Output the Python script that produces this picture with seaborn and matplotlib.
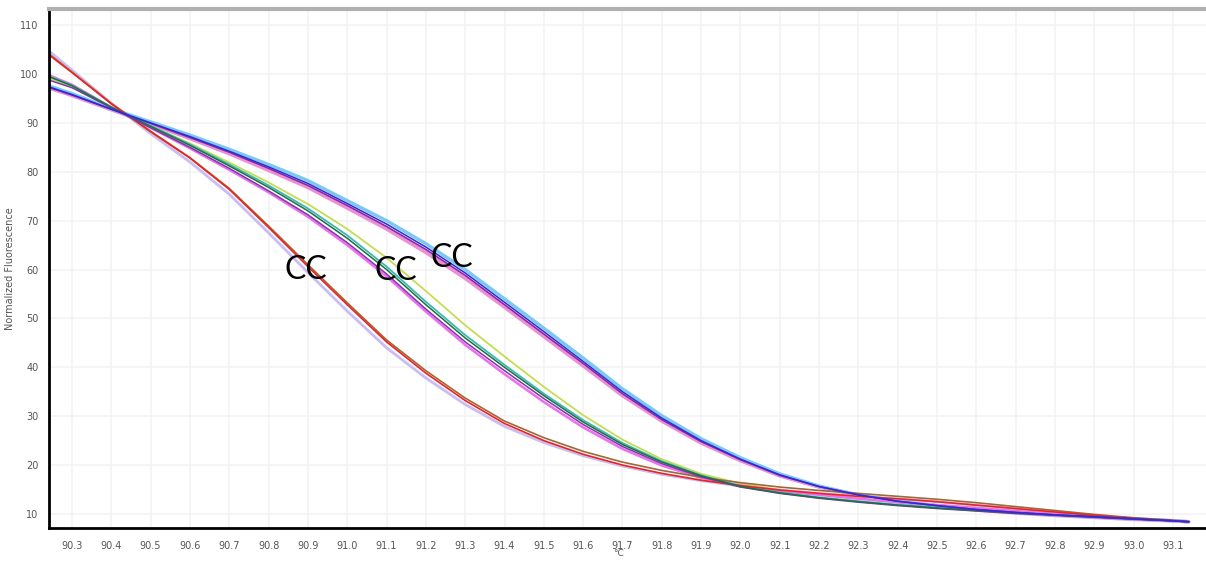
import matplotlib
matplotlib.use("Agg")
import matplotlib.pyplot as plt
import seaborn as sns
import pandas as pd

# temperatures (°C) the curves were read at
temps = [90.24, 90.3, 90.4, 90.5, 90.6, 90.7, 90.8, 90.9, 91.0, 91.1, 91.2,
         91.3, 91.4, 91.5, 91.6, 91.7, 91.8, 91.9, 92.0, 92.1, 92.2, 92.3,
         92.4, 92.5, 92.6, 92.7, 92.8, 92.9, 93.0, 93.1, 93.14]

# group melting earliest (left "CC")
a_red = [104.0, 100.3, 93.9, 88.2, 82.8, 76.4, 68.6, 60.6, 52.8, 45.2, 38.8,
         33.2, 28.5, 25.0, 22.2, 20.0, 18.3, 16.9, 15.8, 14.9, 14.2, 13.6,
         13.1, 12.5, 11.8, 11.1, 10.4, 9.7, 9.1, 8.6, 8.4]
a_lavender = [104.8, 100.8, 94.0, 87.8, 82.0, 75.4, 67.5, 59.4, 51.5, 44.0, 37.8,
              32.4, 27.9, 24.6, 21.9, 19.8, 18.1, 16.8, 15.7, 14.9, 14.2, 13.6,
              13.1, 12.5, 11.8, 11.1, 10.4, 9.7, 9.1, 8.6, 8.4]
a_brown = [104.2, 100.4, 94.0, 88.3, 82.9, 76.6, 68.9, 61.0, 53.2, 45.6, 39.3,
           33.7, 29.0, 25.6, 22.8, 20.6, 18.9, 17.5, 16.4, 15.5, 14.8, 14.2,
           13.6, 13.0, 12.3, 11.5, 10.7, 9.9, 9.2, 8.7, 8.4]

# middle group
b_green = [99.5, 97.6, 93.2, 89.3, 85.4, 81.2, 76.8, 72.0, 66.4, 60.0, 52.8,
           46.0, 40.0, 34.2, 28.8, 24.2, 20.6, 17.8, 15.6, 14.3, 13.3, 12.5,
           11.8, 11.2, 10.7, 10.2, 9.8, 9.4, 9.0, 8.6, 8.4]
b_purple = [98.8, 97.2, 93.1, 89.0, 85.0, 80.7, 76.1, 71.2, 65.5, 59.1, 51.9,
            45.2, 39.3, 33.6, 28.3, 23.8, 20.3, 17.6, 15.5, 14.2, 13.2, 12.4,
            11.7, 11.1, 10.6, 10.1, 9.7, 9.3, 8.9, 8.6, 8.4]
b_yellow = [99.2, 97.4, 93.0, 89.4, 85.8, 81.9, 77.8, 73.4, 68.3, 62.4, 55.6,
            48.6, 42.2, 36.0, 30.2, 25.2, 21.2, 18.2, 16.2, 14.9, 14.0, 13.2,
            12.5, 11.9, 11.3, 10.7, 10.1, 9.5, 9.0, 8.6, 8.4]
b_magenta = [99.8, 97.8, 93.2, 89.0, 84.8, 80.4, 75.8, 70.8, 65.0, 58.6, 51.4,
             44.6, 38.6, 32.9, 27.7, 23.3, 19.9, 17.4, 15.8, 14.7, 13.9, 13.1,
             12.4, 11.8, 11.2, 10.6, 10.0, 9.5, 9.0, 8.6, 8.4]
b_teal = [99.6, 97.7, 93.2, 89.4, 85.6, 81.5, 77.2, 72.5, 67.0, 60.6, 53.4,
          46.6, 40.5, 34.6, 29.2, 24.5, 20.8, 17.9, 15.7, 14.4, 13.4, 12.6,
          11.9, 11.3, 10.8, 10.3, 9.8, 9.4, 9.0, 8.6, 8.4]

# group melting latest (right "CC")
c_blue = [97.4, 95.8, 92.8, 90.0, 87.2, 84.2, 81.0, 77.6, 73.5, 69.3, 64.6,
          59.3, 53.3, 47.3, 41.2, 35.0, 29.6, 25.0, 21.2, 18.0, 15.6, 13.9,
          12.6, 11.7, 10.9, 10.3, 9.8, 9.4, 9.0, 8.6, 8.4]
c_cyan = [97.6, 96.0, 92.9, 90.2, 87.5, 84.6, 81.5, 78.2, 74.1, 70.0, 65.3,
          60.0, 54.0, 48.0, 41.9, 35.6, 30.1, 25.4, 21.5, 18.2, 15.7, 13.9,
          12.6, 11.7, 10.9, 10.3, 9.8, 9.4, 9.0, 8.6, 8.4]
c_pink = [97.2, 95.6, 92.7, 89.8, 86.8, 83.7, 80.3, 76.8, 72.6, 68.3, 63.5,
          58.2, 52.3, 46.3, 40.3, 34.2, 29.0, 24.5, 20.9, 17.8, 15.5, 13.8,
          12.5, 11.6, 10.8, 10.2, 9.7, 9.3, 8.9, 8.6, 8.4]
c_purple = [97.3, 95.7, 92.8, 89.9, 87.0, 84.0, 80.7, 77.2, 73.1, 68.8, 64.1,
            58.8, 52.8, 46.8, 40.8, 34.6, 29.3, 24.8, 21.1, 17.9, 15.6, 13.9,
            12.6, 11.7, 10.9, 10.3, 9.8, 9.4, 9.0, 8.6, 8.4]

series = {
    "a_lavender": a_lavender, "c_pink": c_pink, "c_cyan": c_cyan,
    "b_yellow": b_yellow, "b_magenta": b_magenta, "b_teal": b_teal,
    "a_brown": a_brown, "a_red": a_red, "b_purple": b_purple,
    "b_green": b_green, "c_purple": c_purple, "c_blue": c_blue,
}
colors = {
    "a_lavender": "#c9bdf2", "c_pink": "#ec8fd6", "c_cyan": "#7cc8ee",
    "b_yellow": "#c5dc55", "b_magenta": "#f06cf0", "b_teal": "#3bb8b0",
    "a_brown": "#9a6a3a", "a_red": "#ee2222", "b_purple": "#7a3aa8",
    "b_green": "#1f6f44", "c_purple": "#8a2aa0", "c_blue": "#2a2ae0",
}
widths = {
    "a_lavender": 2.0, "c_pink": 2.6, "c_cyan": 2.4, "b_yellow": 1.3,
    "b_magenta": 1.8, "b_teal": 1.3, "a_brown": 1.2, "a_red": 1.2,
    "b_purple": 1.1, "b_green": 1.1, "c_purple": 1.2, "c_blue": 1.1,
}

labels_x = [90.895, 91.125, 91.265]
labels_y = [60.0, 59.6, 62.4]
label_txt = ["CC", "CC", "CC"]

rows = []
for name, vals in series.items():
    for t, v in zip(temps, vals):
        rows.append({"temp": t, "fluor": v, "trace": name})
df = pd.DataFrame(rows)

sns.set_style("whitegrid")
plt.rcParams["font.family"] = ["DejaVu Sans"]

fig = plt.figure(figsize=(12.06, 5.61), dpi=100)
ax = fig.add_axes([0.0406, 0.0595, 0.9594, 0.9245])

for name in series:
    sns.lineplot(data=df[df.trace == name], x="temp", y="fluor",
                 color=colors[name], lw=widths[name], estimator=None,
                 sort=False, ax=ax, legend=False)

for x, y, s in zip(labels_x, labels_y, label_txt):
    ax.text(x, y, s, fontsize=23, family="Lato", color="black",
            ha="center", va="center")

ax.set_xlim(90.2415, 93.184)
ax.set_ylim(7.2, 113.3)
ax.set_xticks([90.3 + 0.1 * i for i in range(29)])
ax.set_xticklabels([f"{90.3 + 0.1 * i:.1f}" for i in range(29)])
ax.set_yticks(range(10, 111, 10))

ax.grid(True, color="#f2f2f2", lw=1.1)
ax.tick_params(axis="both", labelsize=7, colors="#888888", labelcolor="#555555",
               length=2.5, width=0.8, direction="out", pad=5)
ax.tick_params(axis="x", pad=7)

for side in ["left", "bottom"]:
    ax.spines[side].set_color("black")
    ax.spines[side].set_linewidth(2.0)
ax.spines["top"].set_color("#b0b0b0")
ax.spines["top"].set_linewidth(3.0)
ax.spines["right"].set_visible(False)

ax.set_xlabel("°C", fontsize=6.5, color="#555555")
ax.xaxis.set_label_coords(0.492, -0.041)
ax.set_ylabel("Normalized Fluorescence", fontsize=7, color="#555555")
ax.yaxis.set_label_coords(-0.0295, 0.5)

fig.savefig("out.png", dpi=100)
